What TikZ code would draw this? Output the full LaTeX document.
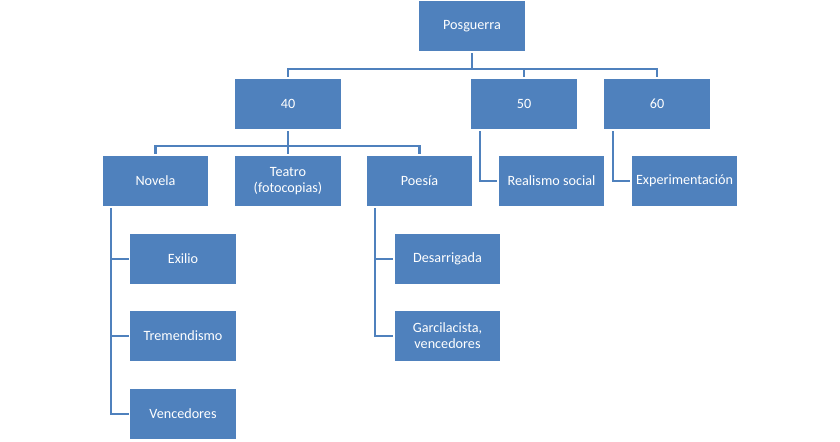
\documentclass[tikz,border=0pt]{standalone}
\usepackage{fontspec}
\setmainfont{Carlito}
\usetikzlibrary{calc,positioning,backgrounds}
\definecolor{boxblue}{RGB}{79,129,189}

\begin{document}
\begin{tikzpicture}[x=0.03cm, y=-0.03cm,
    every node/.style={font=\fontsize{12.1}{13.6}\selectfont},
    tbox/.style={rectangle, fill=boxblue, draw=white, line width=1pt, text=white,
      minimum width=3.21cm, minimum height=1.56cm, align=center, inner sep=2pt},
    conn/.style={draw=boxblue, line width=1.8pt}]
  \useasboundingbox (0,0) rectangle (840,441);
  % top level
  \node[tbox] (pos) at (472,26) {Posguerra};
  \node[tbox] (d40) at (288,104) {40};
  \node[tbox] (d50) at (524,104) {50};
  \node[tbox] (d60) at (657,104) {60};
  % genres of the 40s
  \node[tbox] (nov) at (155.5,181) {Novela};
  \node[tbox] (tea) at (288,181) {Teatro\\(fotocopias)};
  \node[tbox] (poe) at (419.5,181) {Poesía};
  \node[tbox] (rea) at (551.5,181) {Realismo social};
  \node[tbox] (exp) at (684.5,181) {Experimentación};
  % sub-branches
  \node[tbox] (exi) at (183,259) {Exilio};
  \node[tbox] (tre) at (183,336) {Tremendismo};
  \node[tbox] (ven) at (183,414) {Vencedores};
  \node[tbox] (des) at (447.5,259) {Desarrigada};
  \node[tbox] (gar) at (447.5,336) {Garcilacista,\\vencedores};

  \begin{scope}[on background layer]
    \draw[conn] (pos.south) -- ++(0,16) -| (d40.north);
    \draw[conn] (pos.south) -- ++(0,16) -| (d50.north);
    \draw[conn] (pos.south) -- ++(0,16) -| (d60.north);
    \draw[conn] (d40.south) -- ++(0,15) -| (nov.north);
    \draw[conn] (d40.south) -- (tea.north);
    \draw[conn] (d40.south) -- ++(0,15) -| (poe.north);
    \draw[conn] ([xshift=0.3cm]d50.south west) |- (rea.west);
    \draw[conn] ([xshift=0.3cm]d60.south west) |- (exp.west);
    \draw[conn] ([xshift=0.3cm]nov.south west) |- (exi.west);
    \draw[conn] ([xshift=0.3cm]nov.south west) |- (tre.west);
    \draw[conn] ([xshift=0.3cm]nov.south west) |- (ven.west);
    \draw[conn] ([xshift=0.3cm]poe.south west) |- (des.west);
    \draw[conn] ([xshift=0.3cm]poe.south west) |- (gar.west);
  \end{scope}
\end{tikzpicture}
\end{document}
